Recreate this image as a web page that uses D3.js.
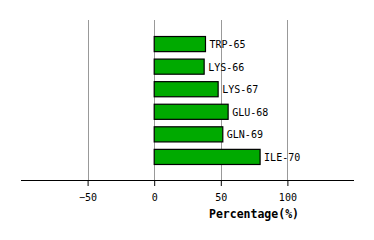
<!DOCTYPE html>
<html>
<head>
<meta charset="utf-8">
<script src="https://cdn.jsdelivr.net/npm/d3@7"></script>
<style>
  body { margin: 0; background: #fff; }
  text { font-family: "DejaVu Sans Mono", monospace; }
</style>
</head>
<body>
<svg width="374" height="240"></svg>
<script>
const residues = ["TRP-65", "LYS-66", "LYS-67", "GLU-68", "GLN-69", "ILE-70"];
const percents = [38.5, 37.5, 48, 55.5, 51.5, 79.5];
const tickValues = [-50, 0, 50, 100];

const svg = d3.select("svg");

const x = d3.scaleLinear()
    .domain([-100, 150])
    .range([21, 354]);

const y = d3.scaleBand()
    .domain(residues)
    .range([32, 169])
    .paddingInner(0.33)
    .paddingOuter(0.2);

const axisY = 180;

// grid lines
svg.append("g")
    .selectAll("line")
    .data(tickValues)
    .join("line")
    .attr("x1", d => Math.round(x(d)) + 0.5)
    .attr("x2", d => Math.round(x(d)) + 0.5)
    .attr("y1", 20)
    .attr("y2", axisY)
    .attr("stroke", "#999")
    .attr("stroke-width", 1);

// bars
svg.append("g")
    .selectAll("rect")
    .data(residues)
    .join("rect")
    .attr("x", x(0))
    .attr("y", d => y(d))
    .attr("width", (d, i) => x(percents[i]) - x(0))
    .attr("height", y.bandwidth())
    .attr("fill", "#00aa00")
    .attr("stroke", "#000")
    .attr("stroke-width", 1.2);

// bar labels
svg.append("g")
    .selectAll("text")
    .data(residues)
    .join("text")
    .attr("x", (d, i) => x(percents[i]) + 4)
    .attr("y", d => y(d) + y.bandwidth() / 2 + 4)
    .attr("font-size", "10px")
    .attr("fill", "#000")
    .text(d => d);

// x axis
const xAxis = d3.axisBottom(x)
    .tickValues(tickValues)
    .tickSize(6)
    .tickPadding(8);

const ax = svg.append("g")
    .attr("transform", `translate(0, ${axisY})`)
    .call(xAxis);
ax.select(".domain").attr("d", `M${x.range()[0]},0.5H${x.range()[1]}`).attr("stroke", "#000");
ax.selectAll(".tick line").attr("stroke", "#000");
ax.selectAll(".tick text")
    .attr("font-family", "DejaVu Sans Mono, monospace")
    .attr("font-size", "10px")
    .attr("fill", "#000");

// axis title
svg.append("text")
    .attr("x", 254)
    .attr("y", 218)
    .attr("text-anchor", "middle")
    .attr("font-size", "11.5px")
    .attr("font-weight", "bold")
    .text("Percentage(%)");
</script>
</body>
</html>
